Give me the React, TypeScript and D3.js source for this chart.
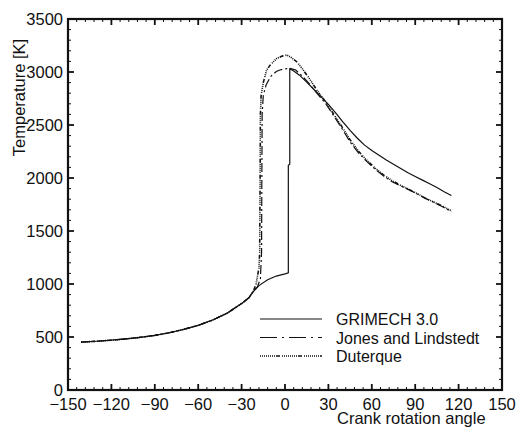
import React from 'react';
import * as d3 from 'd3';

// ---- data ----
const xTickValues = [-150, -120, -90, -60, -30, 0, 30, 60, 90, 120, 150];
const yTickValues = [0, 500, 1000, 1500, 2000, 2500, 3000, 3500];
const seriesNames = ['GRIMECH 3.0', 'Jones and Lindstedt', 'Duterque'];

const grimechAngle = [-141, -130, -120, -110, -100, -90, -80, -70, -60, -50, -40, -30, -25, -22, -18, -12, -6, 0, 2.3, 2.3, 3.3, 3.3, 6, 10, 15, 20, 25, 30, 35, 40, 45, 50, 55, 60, 65, 70, 75, 80, 85, 90, 95, 100, 105, 110, 115];
const grimechTemp = [452, 460, 470, 482, 497, 515, 540, 572, 610, 660, 725, 815, 870, 927, 985, 1040, 1075, 1095, 1105, 2120, 2130, 3030, 3010, 2970, 2905, 2835, 2765, 2695, 2615, 2530, 2450, 2375, 2310, 2260, 2215, 2170, 2130, 2090, 2050, 2015, 1980, 1945, 1910, 1870, 1835];

const jonesAngle = [-141, -130, -120, -110, -100, -90, -80, -70, -60, -50, -40, -30, -25, -22, -19, -17, -16.2, -16, -15.8, -15, -13, -10, -6, -3.5, 0, 3.5, 7.4, 12, 16.6, 22, 28, 34, 40, 45, 51, 57, 63, 68, 74, 80, 86, 92, 97, 103, 108, 113, 115];
const jonesTemp = [452, 460, 470, 482, 497, 515, 540, 572, 610, 660, 725, 815, 870, 927, 975, 1050, 1300, 2000, 2600, 2780, 2880, 2956, 3005, 3019, 3030, 3035, 3019, 2960, 2893, 2800, 2704, 2580, 2453, 2340, 2233, 2150, 2075, 2020, 1965, 1925, 1887, 1845, 1808, 1770, 1735, 1698, 1680];

const duterqueAngle = [-141, -130, -120, -110, -100, -90, -80, -70, -60, -50, -40, -30, -25, -22, -20, -18, -17.5, -17.2, -17, -16.5, -15, -12.7, -10, -5.7, -2, 1.2, 4, 8.1, 12, 16.6, 22, 28, 34, 40, 45, 51, 57, 63, 68, 74, 80, 86, 92, 97, 103, 108, 113, 115];
const duterqueTemp = [452, 460, 470, 482, 497, 515, 540, 572, 610, 660, 725, 815, 870, 927, 1000, 1150, 1300, 2000, 2600, 2780, 2900, 3019, 3070, 3128, 3150, 3160, 3140, 3097, 3030, 2943, 2830, 2720, 2595, 2470, 2360, 2250, 2160, 2085, 2030, 1975, 1930, 1890, 1848, 1810, 1772, 1740, 1705, 1690];

// ---- layout ----
const W = 518, H = 428;
const left = 68, right = 502, top = 19, bottom = 390;
const FONT = '"Liberation Sans", Arial, Helvetica, sans-serif';

export default function App() {
  const x = d3.scaleLinear().domain([-150, 150]).range([left, right]);
  const y = d3.scaleLinear().domain([0, 3500]).range([bottom, top]);
  const line = d3.line<[number, number]>().x(d => x(d[0])).y(d => y(d[1]));

  const series = [
    { name: seriesNames[0], a: grimechAngle, t: grimechTemp, dash: undefined as string | undefined, legendDash: undefined as string | undefined, w: 1.2 },
    { name: seriesNames[1], a: jonesAngle, t: jonesTemp, dash: '9,3,2,3', legendDash: '17,5,2,5', w: 1.2 },
    { name: seriesNames[2], a: duterqueAngle, t: duterqueTemp, dash: '1,1,1,1,1,1,1,1,1,1,4,2', legendDash: '1,1,1,1,1,1,1,1,1,1,1,1,1,1,1,1,4,2', w: 1.6 },
  ];

  const xMinor = d3.range(-150, 151, 6).filter(v => v % 30 !== 0);
  const yMinor = d3.range(0, 3501, 100).filter(v => v % 500 !== 0);
  const fmt = (v: number) => String(v).replace('-', '\u2212');
  const major = 6, minor = 3;

  return (
    <svg width={W} height={H} style={{ position: 'absolute', left: 0, top: 0 }} fontFamily={FONT}>
      <rect x={0} y={0} width={W} height={H} fill="#fff" />
      {/* data lines */}
      <g fill="none" stroke="#111">
        {series.map(s => (
          <path key={s.name} d={line(s.a.map((v, i) => [v, s.t[i]] as [number, number])) || ''}
            strokeWidth={s.w} strokeDasharray={s.dash} />
        ))}
      </g>
      {/* ticks */}
      <g stroke="#111">
        {xTickValues.map(v => (
          <g key={'xt' + v}>
            <line x1={x(v)} x2={x(v)} y1={bottom} y2={bottom - major} strokeWidth={1.8} />
            <line x1={x(v)} x2={x(v)} y1={top} y2={top + major} strokeWidth={1.8} />
          </g>
        ))}
        {xMinor.map(v => (
          <g key={'xm' + v}>
            <line x1={x(v)} x2={x(v)} y1={bottom} y2={bottom - minor} strokeWidth={1} />
            <line x1={x(v)} x2={x(v)} y1={top} y2={top + minor} strokeWidth={1} />
          </g>
        ))}
        {yTickValues.map(v => (
          <g key={'yt' + v}>
            <line x1={left} x2={left + major} y1={y(v)} y2={y(v)} strokeWidth={1.8} />
            <line x1={right} x2={right - major} y1={y(v)} y2={y(v)} strokeWidth={1.8} />
          </g>
        ))}
        {yMinor.map(v => (
          <g key={'ym' + v}>
            <line x1={left} x2={left + minor} y1={y(v)} y2={y(v)} strokeWidth={1} />
            <line x1={right} x2={right - minor} y1={y(v)} y2={y(v)} strokeWidth={1} />
          </g>
        ))}
      </g>
      {/* frame */}
      <rect x={left} y={top} width={right - left} height={bottom - top} fill="none" stroke="#111" strokeWidth={2.2} />
      {/* tick labels */}
      <g fontSize={16.5} fill="#111">
        {xTickValues.map(v => (
          <text key={'xl' + v} x={x(v)} y={bottom + 20} textAnchor="middle">{fmt(v)}</text>
        ))}
        {yTickValues.map(v => (
          <text key={'yl' + v} x={left - 5} y={y(v) + 6} textAnchor="end">{fmt(v)}</text>
        ))}
      </g>
      {/* axis titles */}
      <text x={337} y={H - 4} textAnchor="start" fontSize={16.5} fill="#111">Crank rotation angle</text>
      <text transform={`translate(25, ${(top + bottom) / 2 - 107}) rotate(-90)`} textAnchor="middle" fontSize={16.5} fill="#111">Temperature [K]</text>
      {/* legend */}
      <g>
        {series.map((s, i) => {
          const ly = 319 + i * 18.5;
          return (
            <g key={'lg' + i}>
              <line x1={260} x2={322} y1={ly} y2={ly} stroke="#111" strokeWidth={s.w} strokeDasharray={s.legendDash} />
              <text x={336} y={ly + 6} fontSize={16} fill="#111">{s.name}</text>
            </g>
          );
        })}
      </g>
    </svg>
  );
}
